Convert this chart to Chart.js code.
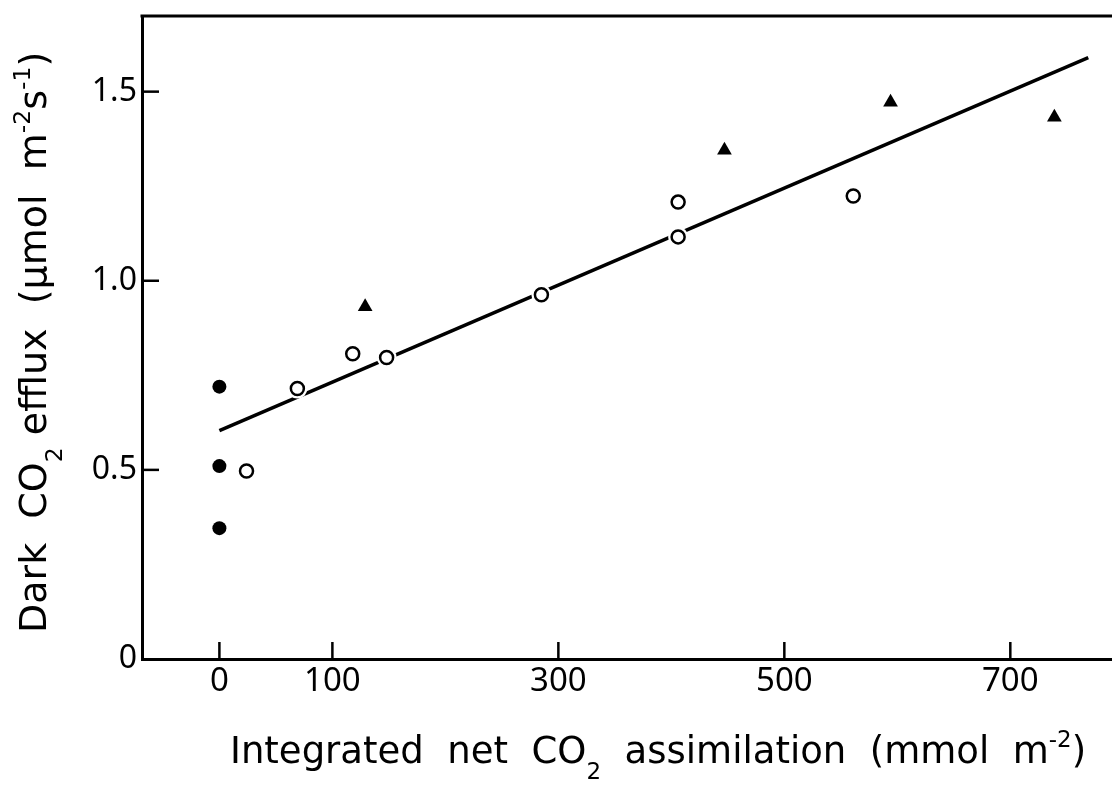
<!DOCTYPE html>
<html>
<head>
<meta charset="utf-8">
<script src="https://cdn.jsdelivr.net/npm/chart.js@4.4.1/dist/chart.umd.min.js"></script>
<style>
  html, body { margin: 0; padding: 0; background: #fff; }
  #wrap { width: 1112px; height: 790px; }
</style>
</head>
<body>
<div id="wrap"><canvas id="myChart" width="1112" height="790"></canvas></div>
<script>
const xTicks = [0, 100, 300, 500, 700];
const yTicks = [0, 0.5, 1.0, 1.5];
const yTickLabels = ['0', '0.5', '1.0', '1.5'];

// filled circles, all at x = 0
const filledX = [0, 0, 0];
const filledY = [0.72, 0.51, 0.346];
// open circles
const openX = [24, 69, 118, 148, 285, 406, 406, 561];
const openY = [0.497, 0.715, 0.807, 0.797, 0.963, 1.116, 1.208, 1.224];
// filled triangles
const triX = [129, 447, 594, 739];
const triY = [0.931, 1.345, 1.472, 1.432];
// regression line end points
const fitX = [0, 769];
const fitY = [0.604, 1.590];

// axis titles, split into [text, 'sub' | 'sup' | '']
const xTitleParts = [['Integrated  net  CO', ''], ['2', 'sub'], ['  assimilation  (mmol  m', ''], ['-2', 'sup'], [')', '']];
const yTitleParts = [['Dark  CO', ''], ['2', 'sub'], [' efflux  (\u03bcmol  m', ''], ['-2', 'sup'], ['s', ''], ['-1', 'sup'], [')', '']];

function toPoints(xs, ys) {
    return xs.map((x, i) => ({ x: x, y: ys[i] }));
}

const TITLE_FONT = '"DejaVu Sans", sans-serif';

function drawRich(ctx, parts, size) {
    let x = 0;
    parts.forEach(function (p) {
        let s = p[1] ? size * 0.62 : size;
        ctx.font = `${s}px ${TITLE_FONT}`;
        let dy = 0;
        if (p[1] == 'sub') dy = size * 0.42;
        if (p[1] == 'sup') dy = -size * 0.42;
        ctx.fillText(p[0], x, dy);
        x += ctx.measureText(p[0]).width;
    });
    return x;
}

const axisDecor = {
    id: 'axisDecor',
    afterDraw(chart) {
        const ctx = chart.ctx;
        const area = chart.chartArea;
        const xs = chart.scales.x;
        const ys = chart.scales.y;
        ctx.save();
        ctx.strokeStyle = '#000';
        ctx.lineWidth = 3;
        ctx.beginPath();
        ctx.moveTo(area.left - 1.5, area.top);
        ctx.lineTo(area.right, area.top);
        ctx.stroke();

        ctx.lineWidth = 2.5;
        xTicks.forEach(function (v) {
            let px = xs.getPixelForValue(v);
            ctx.beginPath();
            ctx.moveTo(px, area.bottom);
            ctx.lineTo(px, area.bottom - 17);
            ctx.stroke();
        });
        yTicks.forEach(function (v) {
            if (v == 0) return;
            let py = ys.getPixelForValue(v);
            ctx.beginPath();
            ctx.moveTo(area.left, py);
            ctx.lineTo(area.left + 17, py);
            ctx.stroke();
        });

        // axis titles
        ctx.fillStyle = '#000';
        ctx.textBaseline = 'alphabetic';
        ctx.textAlign = 'left';
        ctx.save();
        ctx.translate(230, 763);
        drawRich(ctx, xTitleParts, 37);
        ctx.restore();

        ctx.save();
        ctx.translate(46, 633);
        ctx.rotate(-Math.PI / 2);
        drawRich(ctx, yTitleParts, 38);
        ctx.restore();
        ctx.restore();
    }
};

const ctx = document.getElementById('myChart');

const chart = new Chart(ctx, {
    type: 'scatter',
    data: {
        datasets: [{
            label: 'open',
            data: toPoints(openX, openY),
            pointStyle: 'circle',
            pointRadius: 6.5,
            backgroundColor: '#ffffff',
            borderColor: '#000000',
            borderWidth: 2.5
        }, {
            label: 'filled',
            data: toPoints(filledX, filledY),
            pointStyle: 'circle',
            pointRadius: 7,
            backgroundColor: '#000000',
            borderColor: '#000000',
            borderWidth: 0
        }, {
            label: 'triangles',
            data: toPoints(triX, triY),
            pointStyle: 'triangle',
            pointRadius: 8.5,
            backgroundColor: '#000000',
            borderColor: '#000000',
            borderWidth: 0
        }, {
            // white gap round the open circles where the line passes
            label: 'halo',
            data: toPoints(openX, openY),
            pointStyle: 'circle',
            pointRadius: 10,
            backgroundColor: '#ffffff',
            borderWidth: 0
        }, {
            type: 'line',
            label: 'fit',
            data: toPoints(fitX, fitY),
            borderColor: '#000000',
            borderWidth: 3.5,
            pointRadius: 0,
            fill: false
        }]
    },
    options: {
        responsive: false,
        animation: false,
        devicePixelRatio: 1,
        events: [],
        layout: { autoPadding: false, padding: { top: 16, right: 0, left: 0, bottom: 0 } },
        plugins: {
            legend: { display: false },
            tooltip: { enabled: false }
        },
        scales: {
            x: {
                type: 'linear',
                min: -68.5,
                max: 790,
                afterBuildTicks: (scale) => { scale.ticks = xTicks.map((v) => ({ value: v })); },
                afterFit: (scale) => {
                    scale.height = 131;
                    scale.paddingLeft = 0;
                    scale.paddingRight = 0;
                },
                grid: { display: false, drawTicks: false },
                border: { display: true, color: '#000000', width: 3 },
                ticks: {
                    color: '#000000',
                    font: { family: '"Noto Sans", sans-serif', size: 33 },
                    padding: 3,
                    maxRotation: 0,
                    autoSkip: false,
                    callback: (v) => String(v)
                }
            },
            y: {
                type: 'linear',
                min: 0,
                max: 1.7,
                afterBuildTicks: (scale) => { scale.ticks = yTicks.map((v) => ({ value: v })); },
                afterFit: (scale) => {
                    scale.width = 142;
                    scale.paddingTop = 0;
                    scale.paddingBottom = 0;
                },
                grid: { display: false, drawTicks: false },
                border: { display: true, color: '#000000', width: 3 },
                ticks: {
                    color: '#000000',
                    font: { family: '"Noto Sans", sans-serif', size: 32 },
                    padding: 5,
                    autoSkip: false,
                    callback: (v) => yTickLabels[yTicks.indexOf(v)]
                }
            }
        }
    },
    plugins: [axisDecor]
});
</script>
</body>
</html>
